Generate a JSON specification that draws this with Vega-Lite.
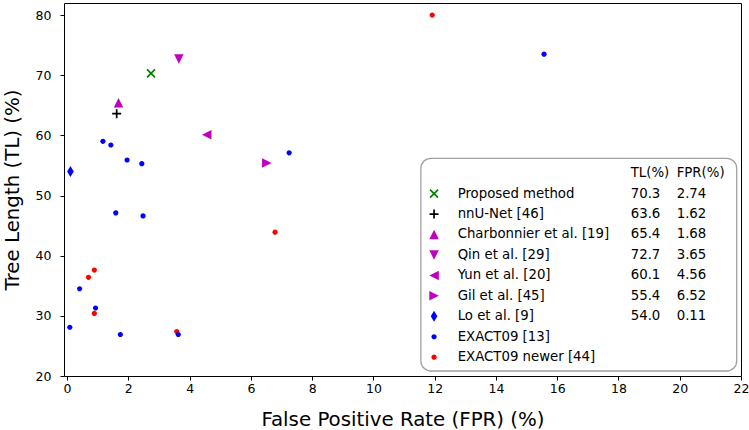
{
  "$schema": "https://vega.github.io/schema/vega-lite/v6.json",
  "width": 677,
  "height": 373,
  "autosize": "none",
  "padding": {"left": 64, "top": 3, "right": 8, "bottom": 54},
  "background": "white",
  "config": {
    "view": {"stroke": "black", "strokeWidth": 1},
    "font": "DejaVu Sans",
    "axis": {
      "domain": false,
      "grid": false,
      "tickColor": "black",
      "tickSize": 4,
      "tickWidth": 1,
      "labelFont": "DejaVu Sans",
      "labelFontSize": 12.5,
      "labelColor": "black",
      "titleFont": "DejaVu Sans",
      "titleFontSize": 19.8,
      "titleFontWeight": "normal",
      "titleColor": "black",
      "labelFlush": false,
      "labelOverlap": false
    },
    "axisX": {"labelPadding": 2, "titlePadding": 15},
    "axisY": {"labelPadding": 9, "titlePadding": 13}
  },
  "datasets": {
    "points": [
      {"method": "Proposed method", "fpr": 2.74, "tl": 70.3},
      {"method": "nnU-Net [46]", "fpr": 1.62, "tl": 63.6},
      {"method": "Charbonnier et al. [19]", "fpr": 1.68, "tl": 65.4},
      {"method": "Qin et al. [29]", "fpr": 3.65, "tl": 72.7},
      {"method": "Yun et al. [20]", "fpr": 4.56, "tl": 60.1},
      {"method": "Gil et al. [45]", "fpr": 6.52, "tl": 55.4},
      {"method": "Lo et al. [9]", "fpr": 0.11, "tl": 54.0},
      {"method": "EXACT09 newer [44]", "fpr": 11.92, "tl": 80.0},
      {"method": "EXACT09 newer [44]", "fpr": 6.79, "tl": 43.9},
      {"method": "EXACT09 newer [44]", "fpr": 0.70, "tl": 36.4},
      {"method": "EXACT09 newer [44]", "fpr": 0.89, "tl": 37.6},
      {"method": "EXACT09 newer [44]", "fpr": 0.89, "tl": 30.4},
      {"method": "EXACT09 newer [44]", "fpr": 3.58, "tl": 27.4},
      {"method": "EXACT09 [13]", "fpr": 1.17, "tl": 59.0},
      {"method": "EXACT09 [13]", "fpr": 1.43, "tl": 58.4},
      {"method": "EXACT09 [13]", "fpr": 1.96, "tl": 55.9},
      {"method": "EXACT09 [13]", "fpr": 2.44, "tl": 55.3},
      {"method": "EXACT09 [13]", "fpr": 1.59, "tl": 47.1},
      {"method": "EXACT09 [13]", "fpr": 2.48, "tl": 46.6},
      {"method": "EXACT09 [13]", "fpr": 0.41, "tl": 34.5},
      {"method": "EXACT09 [13]", "fpr": 0.93, "tl": 31.3},
      {"method": "EXACT09 [13]", "fpr": 0.09, "tl": 28.1},
      {"method": "EXACT09 [13]", "fpr": 1.74, "tl": 26.9},
      {"method": "EXACT09 [13]", "fpr": 3.63, "tl": 26.9},
      {"method": "EXACT09 [13]", "fpr": 7.25, "tl": 57.1},
      {"method": "EXACT09 [13]", "fpr": 15.57, "tl": 73.5}
    ],
    "legend": [
      {"method": "Proposed method", "rank": 1, "tl": "70.3", "fpr": "2.74"},
      {"method": "nnU-Net [46]", "rank": 2, "tl": "63.6", "fpr": "1.62"},
      {"method": "Charbonnier et al. [19]", "rank": 3, "tl": "65.4", "fpr": "1.68"},
      {"method": "Qin et al. [29]", "rank": 4, "tl": "72.7", "fpr": "3.65"},
      {"method": "Yun et al. [20]", "rank": 5, "tl": "60.1", "fpr": "4.56"},
      {"method": "Gil et al. [45]", "rank": 6, "tl": "55.4", "fpr": "6.52"},
      {"method": "Lo et al. [9]", "rank": 7, "tl": "54.0", "fpr": "0.11"},
      {"method": "EXACT09 [13]", "rank": 8, "tl": "", "fpr": ""},
      {"method": "EXACT09 newer [44]", "rank": 9, "tl": "", "fpr": ""}
    ]
  },
  "layer": [
    {
      "layer": [
        {
          "data": {"name": "points"},
          "transform": [{"filter": "datum.method !== 'Proposed method' && datum.method !== 'nnU-Net [46]'"}],
          "mark": {"type": "point", "filled": true, "opacity": 1, "size": 100, "strokeWidth": 0},
          "encoding": {
            "x": {"field": "fpr", "type": "quantitative", "scale": {"domain": [-0.1, 22], "nice": false, "zero": false}, "axis": {"values": [0, 2, 4, 6, 8, 10, 12, 14, 16, 18, 20, 22], "title": "False Positive Rate (FPR) (%)"}},
            "y": {"field": "tl", "type": "quantitative", "scale": {"domain": [20, 82], "nice": false, "zero": false}, "axis": {"values": [20, 30, 40, 50, 60, 70, 80], "title": "Tree Length (TL) (%)"}},
            "color": {"field": "method", "type": "nominal", "legend": null,
              "scale": {"domain": ["Proposed method", "nnU-Net [46]", "Charbonnier et al. [19]", "Qin et al. [29]", "Yun et al. [20]", "Gil et al. [45]", "Lo et al. [9]", "EXACT09 [13]", "EXACT09 newer [44]"],
                        "range": ["#008000", "#000000", "#bf00bf", "#bf00bf", "#bf00bf", "#bf00bf", "#0000ff", "#0000ff", "#ff0000"]}},
            "shape": {"field": "method", "type": "nominal", "legend": null,
              "scale": {"domain": ["Proposed method", "nnU-Net [46]", "Charbonnier et al. [19]", "Qin et al. [29]", "Yun et al. [20]", "Gil et al. [45]", "Lo et al. [9]", "EXACT09 [13]", "EXACT09 newer [44]"],
                        "range": ["M-0.8,-0.8L0.8,0.8M-0.8,0.8L0.8,-0.8", "M-0.9,0L0.9,0M0,-0.9L0,0.9", "M0,-0.95L0.95,0.95L-0.95,0.95Z", "M0,0.95L0.95,-0.95L-0.95,-0.95Z", "M-0.95,0L0.95,-0.95L0.95,0.95Z", "M0.95,0L-0.95,-0.95L-0.95,0.95Z", "M0,-1.1L0.66,0L0,1.1L-0.66,0Z", "M0.52,0A0.52,0.52,0,1,1,-0.52,0A0.52,0.52,0,1,1,0.52,0Z", "M0.52,0A0.52,0.52,0,1,1,-0.52,0A0.52,0.52,0,1,1,0.52,0Z"]}}
          }
        },
        {
          "data": {"name": "points"},
          "transform": [{"filter": "datum.method === 'Proposed method' || datum.method === 'nnU-Net [46]'"}],
          "mark": {"type": "point", "filled": false, "opacity": 1, "size": 100, "strokeWidth": 1.7},
          "encoding": {
            "x": {"field": "fpr", "type": "quantitative"},
            "y": {"field": "tl", "type": "quantitative"},
            "color": {"field": "method", "type": "nominal", "legend": null},
            "shape": {"field": "method", "type": "nominal", "legend": null}
          }
        },
        {
          "data": {"values": [{}]},
          "mark": {"type": "rect", "fill": "white", "stroke": "#a0a0a0", "strokeWidth": 1.3, "cornerRadius": 10},
          "encoding": {
            "x": {"datum": 11.55, "type": "quantitative"},
            "x2": {"datum": 21.86},
            "y": {"datum": 56.17, "type": "quantitative"},
            "y2": {"datum": 20.83}
          }
        }
      ]
    },
    {
      "data": {"name": "legend"},
      "layer": [
        {
          "transform": [{"filter": "datum.method !== 'Proposed method' && datum.method !== 'nnU-Net [46]'"}],
          "mark": {"type": "point", "filled": true, "opacity": 1, "size": 100, "strokeWidth": 0},
          "encoding": {
            "x": {"datum": 11.98, "type": "quantitative"},
            "y": {"field": "rank", "type": "quantitative", "scale": {"domain": [-8.32, 9.92], "reverse": true, "nice": false, "zero": false}, "axis": null},
            "color": {"field": "method", "type": "nominal", "legend": null},
            "shape": {"field": "method", "type": "nominal", "legend": null}
          }
        },
        {
          "transform": [{"filter": "datum.method === 'Proposed method' || datum.method === 'nnU-Net [46]'"}],
          "mark": {"type": "point", "filled": false, "opacity": 1, "size": 100, "strokeWidth": 1.7},
          "encoding": {
            "x": {"datum": 11.98, "type": "quantitative"},
            "y": {"field": "rank", "type": "quantitative", "axis": null},
            "color": {"field": "method", "type": "nominal", "legend": null},
            "shape": {"field": "method", "type": "nominal", "legend": null}
          }
        },
        {
          "mark": {"type": "text", "align": "left", "baseline": "middle", "fontSize": 13.3, "font": "DejaVu Sans", "color": "black"},
          "encoding": {
            "x": {"datum": 12.75, "type": "quantitative"},
            "y": {"field": "rank", "type": "quantitative", "axis": null},
            "text": {"field": "method"}
          }
        },
        {
          "mark": {"type": "text", "align": "left", "baseline": "middle", "fontSize": 13.3, "font": "DejaVu Sans", "color": "black"},
          "encoding": {
            "x": {"datum": 18.40, "type": "quantitative"},
            "y": {"field": "rank", "type": "quantitative", "axis": null},
            "text": {"field": "tl"}
          }
        },
        {
          "mark": {"type": "text", "align": "left", "baseline": "middle", "fontSize": 13.3, "font": "DejaVu Sans", "color": "black"},
          "encoding": {
            "x": {"datum": 19.90, "type": "quantitative"},
            "y": {"field": "rank", "type": "quantitative", "axis": null},
            "text": {"field": "fpr"}
          }
        },
        {
          "data": {"values": [{"label": "TL(%)"}]},
          "mark": {"type": "text", "align": "left", "baseline": "middle", "fontSize": 13.3, "font": "DejaVu Sans", "color": "black"},
          "encoding": {
            "x": {"datum": 18.40, "type": "quantitative"},
            "y": {"datum": 0, "type": "quantitative", "axis": null},
            "text": {"field": "label"}
          }
        },
        {
          "data": {"values": [{"label": "FPR(%)"}]},
          "mark": {"type": "text", "align": "left", "baseline": "middle", "fontSize": 13.3, "font": "DejaVu Sans", "color": "black"},
          "encoding": {
            "x": {"datum": 19.90, "type": "quantitative"},
            "y": {"datum": 0, "type": "quantitative", "axis": null},
            "text": {"field": "label"}
          }
        }
      ]
    }
  ],
  "resolve": {"scale": {"y": "independent"}}
}
